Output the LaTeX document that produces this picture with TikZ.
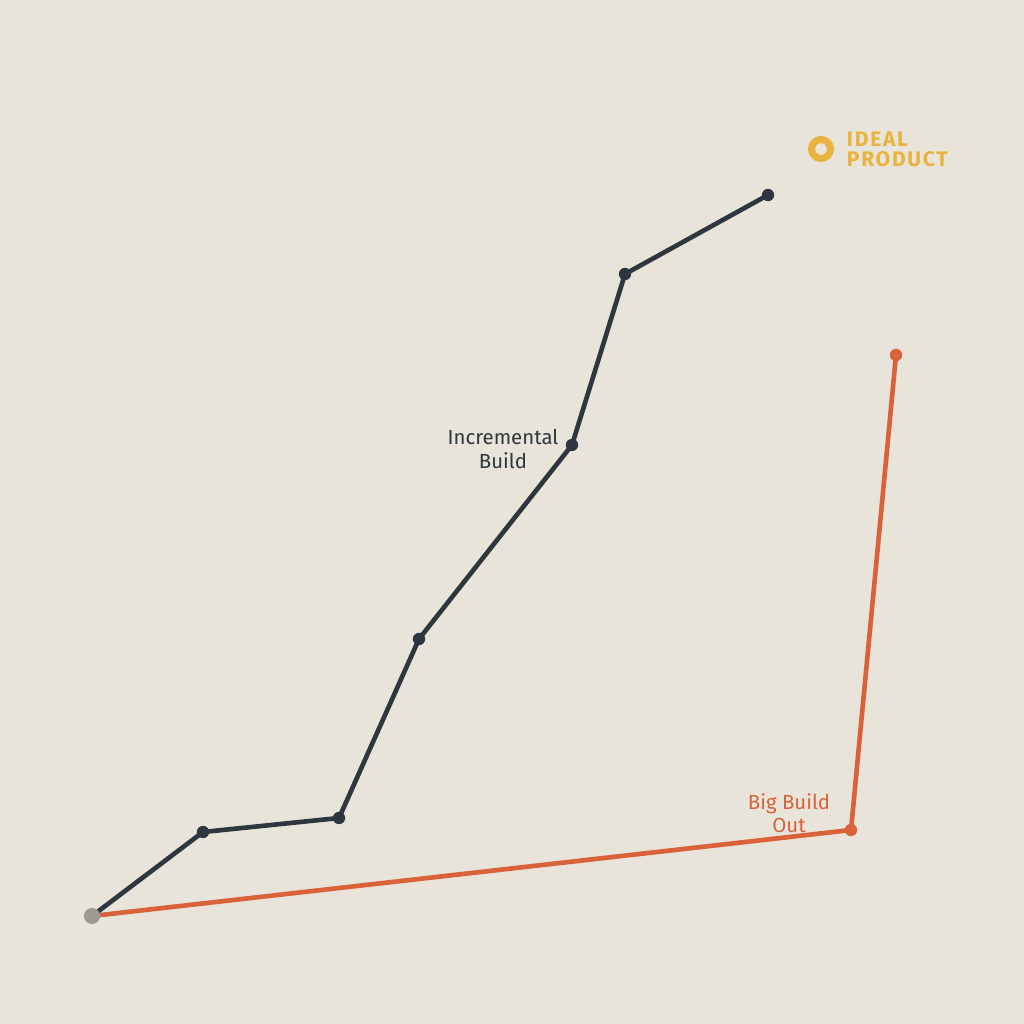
\documentclass[tikz,border=0pt]{standalone}
\usepackage{fontspec}
\setmainfont{Fira Sans}
\usetikzlibrary{positioning}

\definecolor{paper}{HTML}{E8E4D9}
\definecolor{slate}{HTML}{2E3640}
\definecolor{rust}{HTML}{D9623B}
\definecolor{gold}{HTML}{E8B33E}
\definecolor{stone}{HTML}{9A9A92}

\tikzset{
  dot/.style={circle, fill=#1, inner sep=0pt, minimum size=8.8pt},
  path/.style={line width=3.3pt, draw=#1, line cap=round, line join=round},
  lbl/.style={align=center, font=\fontsize{14.5}{16.6}\selectfont, text=#1}
}

\begin{document}
\begin{tikzpicture}[x=0.25mm,y=-0.25mm]
    % Canvas: 1024 x 1024 units, y grows downward.
    \fill[paper] (0,0) rectangle (1024,1024);
    \useasboundingbox (0,0) rectangle (1024,1024);

    % Incremental route
    \foreach \name/\x/\y in {i1/203/832,i2/339/818,i3/419/639,i4/572/445,i5/625/274,i6/768/195} {
      \coordinate (\name) at (\x,\y);
    }
    % Big build route
    \coordinate (b1) at (851,830);
    \coordinate (b2) at (896,355);
    \coordinate (start) at (92,916);

    \draw[path=rust] (start) -- (b1) -- (b2);
    \draw[path=slate] (start) -- (i1) -- (i2) -- (i3) -- (i4) -- (i5) -- (i6);

    \foreach \name in {i1,i2,i3,i4,i5,i6} {
      \node[dot=slate] (\name dot) at (\name) {};
    }
    \node[dot=rust] (b1dot) at (b1) {};
    \node[dot=rust] (b2dot) at (b2) {};
    \node[dot=stone, minimum size=11.5pt] (startdot) at (start) {};

    % Labels
    \node[lbl=slate] (incr) at (503,449) {Incremental\\Build};
    \node[lbl=rust] (bigbuild) at (789,813) {Big Build\\Out};

    % Target
    \draw[gold, line width=5pt] (821,149) circle (9.5);
    \node[anchor=west, align=left, text=gold,
      font=\fontsize{15}{14.4}\selectfont\bfseries\addfontfeatures{LetterSpace=8}]
      (ideal) at (842,149) {IDEAL\\PRODUCT};
\end{tikzpicture}
\end{document}
